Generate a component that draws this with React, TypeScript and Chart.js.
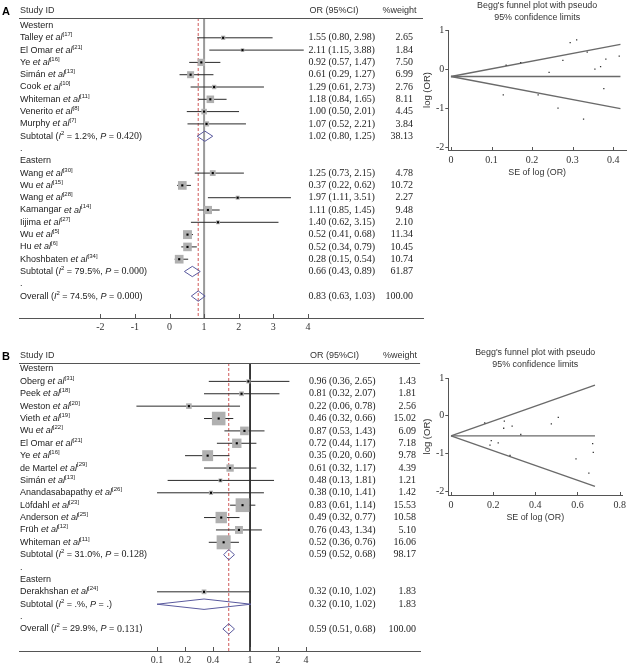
import React, { useEffect, useRef } from "react";
import { Chart, registerables } from "chart.js";
Chart.register(...registerables);

const SANS = '"Liberation Sans", Arial, sans-serif';
const SERIF = '"Liberation Serif", "Times New Roman", serif';

// ---------------- Panel A: forest plot ----------------
const studyNamesA = ["Talley", "El Omar", "Ye", "Simán", "Cook", "Whiteman", "Venerito", "Murphy", "Wang", "Wu", "Wang", "Kamangar", "Iijima", "Wu", "Hu", "Khoshbaten"];
const studyRefsA = ["17", "21", "16", "13", "10", "11", "8", "7", "30", "15", "28", "14", "27", "5", "6", "34"];
const studyRowsA = [1, 2, 3, 4, 5, 6, 7, 8, 12, 13, 14, 15, 16, 17, 18, 19];
const studyOrA = [1.55, 2.11, 0.92, 0.61, 1.29, 1.18, 1.0, 1.07, 1.25, 0.37, 1.97, 1.11, 1.4, 0.52, 0.52, 0.28];
const studyLoA = [0.8, 1.15, 0.57, 0.29, 0.61, 0.84, 0.5, 0.52, 0.73, 0.22, 1.11, 0.85, 0.62, 0.41, 0.34, 0.15];
const studyHiA = [2.98, 3.88, 1.47, 1.27, 2.73, 1.65, 2.01, 2.21, 2.15, 0.62, 3.51, 1.45, 3.15, 0.68, 0.79, 0.54];
const studyWeightA = [2.65, 1.84, 7.5, 6.99, 2.76, 8.11, 4.45, 3.84, 4.78, 10.72, 2.27, 9.48, 2.1, 11.34, 10.45, 10.74];
const groupNamesA = ["Western", "Eastern"];
const groupRowsA = [0, 11];
const blankRowsA = [10, 21];
const summaryKindA = ["Subtotal", "Subtotal", "Overall"];
const summaryRowsA = [9, 20, 22];
const summaryI2A = ["1.2%", "79.5%", "74.5%"];
const summaryPA = ["0.420", "0.000", "0.000"];
const summaryOrA = [1.02, 0.66, 0.83];
const summaryLoA = [0.8, 0.43, 0.63];
const summaryHiA = [1.25, 0.89, 1.03];
const summaryWeightA = ["38.13", "61.87", "100.00"];
const xTicksA = [-2, -1, 0, 1, 2, 3, 4];
const xTickLabelsA = ["-2", "-1", "0", "1", "2", "3", "4"];
const nullValueA = 1;
const pooledOrA = 0.83;

// ---------------- Panel A: funnel plot ----------------
const funnelSeA = [0.336, 0.31, 0.242, 0.377, 0.382, 0.172, 0.355, 0.369, 0.276, 0.264, 0.294, 0.136, 0.415, 0.129, 0.215, 0.327];
const funnelLogOrA = [0.438, 0.747, -0.083, -0.494, 0.255, 0.166, 0.0, 0.068, 0.223, -0.994, 0.678, 0.104, 0.336, -0.654, -0.654, -1.273];
const funnelLineSeA = [0, 0.418];
const funnelCenterA = [-0.186, -0.186];
const funnelUpperA = [-0.186, 0.633];
const funnelLowerA = [-0.186, -1.005];
const funnelXTicksA = [0, 0.1, 0.2, 0.3, 0.4];
const funnelXLabelsA = ["0", "0.1", "0.2", "0.3", "0.4"];

// ---------------- Panel B: forest plot ----------------
const studyNamesB = ["Oberg", "Peek", "Weston", "Vieth", "Wu", "El Omar", "Ye", "de Martel", "Simán", "Anandasabapathy", "Löfdahl", "Anderson", "Früh", "Whiteman", "Derakhshan"];
const studyRefsB = ["31", "18", "20", "19", "22", "21", "16", "29", "13", "26", "23", "25", "12", "11", "24"];
const studyRowsB = [1, 2, 3, 4, 5, 6, 7, 8, 9, 10, 11, 12, 13, 14, 18];
const studyOrB = [0.96, 0.81, 0.22, 0.46, 0.87, 0.72, 0.35, 0.61, 0.48, 0.38, 0.83, 0.49, 0.76, 0.52, 0.32];
const studyLoB = [0.36, 0.32, 0.06, 0.32, 0.53, 0.44, 0.2, 0.32, 0.13, 0.1, 0.61, 0.32, 0.43, 0.36, 0.1];
const studyHiB = [2.65, 2.07, 0.78, 0.66, 1.43, 1.17, 0.6, 1.17, 1.81, 1.41, 1.14, 0.77, 1.34, 0.76, 1.02];
const studyWeightB = [1.43, 1.81, 2.56, 15.02, 6.09, 7.18, 9.78, 4.39, 1.21, 1.42, 15.53, 10.58, 5.1, 16.06, 1.83];
const groupNamesB = ["Western", "Eastern"];
const groupRowsB = [0, 17];
const blankRowsB = [16, 20];
const summaryKindB = ["Subtotal", "Subtotal", "Overall"];
const summaryRowsB = [15, 19, 21];
const summaryI2B = ["31.0%", ".%", "29.9%"];
const summaryPB = ["0.128", ".", "0.131"];
const summaryOrB = [0.59, 0.32, 0.59];
const summaryLoB = [0.52, 0.1, 0.51];
const summaryHiB = [0.68, 1.02, 0.68];
const summaryWeightB = ["98.17", "1.83", "100.00"];
const xTicksB = [0.1, 0.2, 0.4, 1, 2, 4];
const xTickLabelsB = ["0.1", "0.2", "0.4", "1", "2", "4"];
const nullValueB = 1;
const pooledOrB = 0.59;

// ---------------- Panel B: funnel plot ----------------
const funnelSeB = [0.509, 0.476, 0.654, 0.185, 0.253, 0.25, 0.28, 0.331, 0.672, 0.675, 0.16, 0.224, 0.29, 0.191, 0.593];
const funnelLogOrB = [-0.041, -0.211, -1.514, -0.777, -0.139, -0.329, -1.05, -0.494, -0.734, -0.968, -0.186, -0.713, -0.274, -0.654, -1.139];
const funnelLineSeB = [0, 0.683];
const funnelCenterB = [-0.528, -0.528];
const funnelUpperB = [-0.528, 0.811];
const funnelLowerB = [-0.528, -1.867];
const funnelXTicksB = [0, 0.2, 0.4, 0.6, 0.8];
const funnelXLabelsB = ["0", "0.2", "0.4", "0.6", "0.8"];

const funnelYTicks = [-2, -1, 0, 1];
const funnelYLabels = ["-2", "-1", "0", "1"];
const funnelTitle = ["Begg's funnel plot with pseudo", "95% confidence limits"];

type Seg = { t: string; s?: "i" | "sup" | "serif" };

function drawRich(ctx: CanvasRenderingContext2D, segs: Seg[], x: number, y: number) {
  let cx = x;
  ctx.textBaseline = "middle";
  ctx.textAlign = "left";
  for (const g of segs) {
    let dy = 0;
    if (g.s === "i") ctx.font = `italic 9px ${SANS}`;
    else if (g.s === "sup") {
      ctx.font = `6px ${SANS}`;
      dy = -3.2;
    } else if (g.s === "serif") ctx.font = `10px ${SERIF}`;
    else ctx.font = `9px ${SANS}`;
    ctx.fillText(g.t, cx, y + dy);
    cx += ctx.measureText(g.t).width;
  }
}

function buildForest(canvas: HTMLCanvasElement, c: any) {
  const ds: any[] = [];
  const pts = c.rows.map((r: number, i: number) => ({ x: c.or[i], y: r }));
  ds.push({ data: pts, pointStyle: "rect", pointRadius: 1.5, backgroundColor: "#000", borderWidth: 0, order: 0 });
  ds.push({
    data: pts,
    pointStyle: "rect",
    pointRadius: c.w.map((w: number) => (c.boxScale * Math.sqrt(w)) / Math.SQRT2),
    backgroundColor: "#b0b0b0",
    borderWidth: 0,
    order: 1,
  });
  c.rows.forEach((r: number, i: number) => {
    ds.push({
      data: [{ x: c.lo[i], y: r }, { x: c.hi[i], y: r }],
      showLine: true, borderColor: "#2a2a2a", borderWidth: 1, pointRadius: 0, order: 2,
    });
  });
  c.sumRows.forEach((r: number, i: number) => {
    ds.push({
      data: [
        { x: c.sumLo[i], y: r },
        { x: c.sumOr[i], y: r - 0.42 },
        { x: c.sumHi[i], y: r },
        { x: c.sumOr[i], y: r + 0.42 },
        { x: c.sumLo[i], y: r },
      ],
      showLine: true, borderColor: "#5a5a9e", borderWidth: 1, pointRadius: 0, order: 2,
    });
  });
  ds.push({
    data: [{ x: c.pooled, y: c.yMin }, { x: c.pooled, y: c.yMax }],
    showLine: true, borderColor: "#d05a5a", borderWidth: 1, borderDash: [3, 2], pointRadius: 0, order: 3,
  });
  ds.push({
    data: [{ x: c.nullValue, y: c.yMin }, { x: c.nullValue, y: c.yMax }],
    showLine: true, borderColor: c.nullColor, borderWidth: c.nullWidth, pointRadius: 0, order: 4,
  });

  const textPlugin = {
    id: "forestText",
    afterDatasetsDraw(chart: any) {
      const { ctx, chartArea: ca } = chart;
      const x = chart.scales.x;
      const y = chart.scales.y;
      ctx.save();
      ctx.strokeStyle = "#555";
      ctx.lineWidth = 1;
      const hy = Math.round(ca.top) + 0.5;
      ctx.beginPath();
      ctx.moveTo(ca.left, hy);
      ctx.lineTo(ca.right, hy);
      ctx.stroke();
      x.ticks.forEach((t: any) => {
        const px = Math.round(x.getPixelForValue(t.value)) + 0.5;
        ctx.beginPath();
        ctx.moveTo(px, ca.bottom - 4);
        ctx.lineTo(px, ca.bottom);
        ctx.stroke();
      });
      const headY = ca.top - 7.5;
      ctx.textBaseline = "middle";
      ctx.textAlign = "left";
      ctx.fillStyle = "#000";
      ctx.font = `bold 11px ${SANS}`;
      ctx.fillText(c.letter, 2, headY + 1);
      ctx.fillStyle = "#333";
      ctx.font = `9px ${SANS}`;
      ctx.fillText("Study ID", ca.left + 1, headY);
      ctx.fillText("OR (95%CI)", c.orTextX + 1, headY);
      ctx.textAlign = "right";
      ctx.fillText("%weight", c.weightHeadRight, headY);

      const nx = ca.left + 1;
      ctx.fillStyle = "#222";
      c.groupRows.forEach((r: number, i: number) => drawRich(ctx, [{ t: c.groupNames[i] }], nx, y.getPixelForValue(r)));
      c.blankRows.forEach((r: number) => drawRich(ctx, [{ t: "." }], nx, y.getPixelForValue(r)));
      c.rows.forEach((r: number, i: number) => {
        const py = y.getPixelForValue(r);
        drawRich(ctx, [{ t: c.names[i] + " " }, { t: "et al", s: "i" }, { t: "[" + c.refs[i] + "]", s: "sup" }], nx, py);
        ctx.font = `10px ${SERIF}`;
        ctx.textAlign = "left";
        ctx.fillText(`${c.or[i].toFixed(2)} (${c.lo[i].toFixed(2)}, ${c.hi[i].toFixed(2)})`, c.orTextX, py);
        ctx.textAlign = "right";
        ctx.fillText(c.w[i].toFixed(2), c.weightRight, py);
      });
      c.sumRows.forEach((r: number, i: number) => {
        const py = y.getPixelForValue(r);
        drawRich(ctx, [
          { t: c.sumKind[i] + " (" },
          { t: "I", s: "i" },
          { t: "2", s: "sup" },
          { t: " = " + c.sumI2[i] + ", " },
          { t: "P", s: "i" },
          { t: " = " },
          { t: c.sumP[i], s: "serif" },
          { t: ")" },
        ], nx, py);
        ctx.font = `10px ${SERIF}`;
        ctx.textAlign = "left";
        ctx.fillText(`${c.sumOr[i].toFixed(2)} (${c.sumLo[i].toFixed(2)}, ${c.sumHi[i].toFixed(2)})`, c.orTextX, py);
        ctx.textAlign = "right";
        ctx.fillText(c.sumW[i], c.weightRight, py);
      });
      ctx.restore();
    },
  };

  return new Chart(canvas, {
    type: "scatter",
    data: { datasets: ds },
    options: {
      animation: false,
      responsive: false,
      events: [],
      layout: { padding: c.padding },
      plugins: { legend: { display: false }, tooltip: { enabled: false }, title: { display: false } },
      scales: {
        x: {
          type: c.xType,
          min: c.xMin,
          max: c.xMax,
          afterBuildTicks: (s: any) => {
            s.ticks = c.xTicks.map((v: number) => ({ value: v }));
          },
          afterFit: (s: any) => {
            s.height = 16;
          },
          grid: { display: true, drawOnChartArea: false, drawTicks: false },
          border: { display: true, color: "#555", width: 1 },
          ticks: {
            autoSkip: false,
            maxRotation: 0,
            padding: 3,
            color: "#333",
            font: { family: SERIF, size: 10 },
            callback: (_v: any, i: number) => c.xTickLabels[i],
          },
        },
        y: { type: "linear", min: c.yMin, max: c.yMax, reverse: true, display: false },
      },
    } as any,
    plugins: [textPlugin],
  });
}

const innerTicksPlugin = {
  id: "innerTicks",
  afterDatasetsDraw(chart: any) {
    const { ctx, chartArea: ca } = chart;
    const x = chart.scales.x;
    ctx.save();
    ctx.strokeStyle = "#555";
    ctx.lineWidth = 1;
    x.ticks.forEach((t: any) => {
      const px = Math.round(x.getPixelForValue(t.value)) + 0.5;
      ctx.beginPath();
      ctx.moveTo(px, ca.bottom - 3);
      ctx.lineTo(px, ca.bottom);
      ctx.stroke();
    });
    ctx.restore();
  },
};

function buildFunnel(canvas: HTMLCanvasElement, f: any) {
  const line = (ys: number[]) => ({
    data: [{ x: f.lineSe[0], y: ys[0] }, { x: f.lineSe[1], y: ys[1] }],
    showLine: true, borderColor: "#6a6a6a", borderWidth: 1.3, pointRadius: 0, order: 1,
  });
  return new Chart(canvas, {
    type: "scatter",
    data: {
      datasets: [
        {
          data: f.se.map((s: number, i: number) => ({ x: s, y: f.logOr[i] })),
          pointStyle: "rect", pointRadius: 0.9, backgroundColor: "#333", borderWidth: 0, order: 0,
        },
        line(f.center),
        line(f.upper),
        line(f.lower),
      ],
    },
    options: {
      animation: false,
      responsive: false,
      events: [],
      layout: { padding: f.padding },
      plugins: {
        legend: { display: false },
        tooltip: { enabled: false },
        title: {
          display: true,
          fullSize: false,
          text: funnelTitle,
          color: "#333",
          font: { family: SANS, size: 8.9, weight: "normal", lineHeight: 1.35 },
          padding: f.titlePadding,
        },
      },
      scales: {
        x: {
          type: "linear",
          min: f.xMin,
          max: f.xMax,
          afterBuildTicks: (s: any) => {
            s.ticks = f.xTicks.map((v: number) => ({ value: v }));
          },
          afterFit: (s: any) => {
            s.height = 30;
          },
          grid: { display: true, drawOnChartArea: false, drawTicks: false },
          border: { display: true, color: "#555", width: 1 },
          ticks: {
            autoSkip: false, maxRotation: 0, padding: 4, color: "#333",
            font: { family: SERIF, size: 10 },
            callback: (_v: any, i: number) => f.xLabels[i],
          },
          title: {
            display: true, text: "SE of log (OR)", color: "#333",
            font: { family: SANS, size: 8.9 }, padding: { top: 0, bottom: f.xTitlePad },
          },
        },
        y: {
          type: "linear",
          min: f.yMin,
          max: f.yMax,
          afterBuildTicks: (s: any) => {
            s.ticks = funnelYTicks.map((v: number) => ({ value: v }));
          },
          afterFit: (s: any) => {
            s.width = 28.3;
          },
          grid: { display: true, drawOnChartArea: false, drawTicks: true, tickLength: 3, color: "#555" },
          border: { display: true, color: "#555", width: 1 },
          ticks: {
            autoSkip: false, padding: 1, color: "#333",
            font: { family: SERIF, size: 10 },
            callback: (_v: any, i: number) => funnelYLabels[i],
          },
          title: {
            display: true, text: "log (OR)", color: "#333",
            font: { family: SANS, size: 9.5 }, padding: { top: 2, bottom: 0 },
          },
        },
      },
    } as any,
    plugins: [innerTicksPlugin],
  });
}

function ChartCanvas(props: { left: number; top: number; width: number; height: number; build: (c: HTMLCanvasElement) => Chart }) {
  const ref = useRef<HTMLCanvasElement>(null);
  useEffect(() => {
    const chart = props.build(ref.current as HTMLCanvasElement);
    return () => chart.destroy();
  }, []);
  return (
    <canvas
      ref={ref}
      width={props.width}
      height={props.height}
      style={{ position: "absolute", left: props.left, top: props.top, width: props.width, height: props.height }}
    />
  );
}

const forestA = {
  letter: "A",
  names: studyNamesA, refs: studyRefsA, rows: studyRowsA, or: studyOrA, lo: studyLoA, hi: studyHiA, w: studyWeightA,
  groupNames: groupNamesA, groupRows: groupRowsA, blankRows: blankRowsA,
  sumKind: summaryKindA, sumRows: summaryRowsA, sumI2: summaryI2A, sumP: summaryPA,
  sumOr: summaryOrA, sumLo: summaryLoA, sumHi: summaryHiA, sumW: summaryWeightA,
  xTicks: xTicksA, xTickLabels: xTickLabelsA, xType: "linear", xMin: -4.35, xMax: 7.327,
  yMin: -0.61, yMax: 23.78,
  nullValue: nullValueA, pooled: pooledOrA, nullColor: "#9a9a9a", nullWidth: 2,
  boxScale: 2.65,
  padding: { left: 19, right: 7, top: 18, bottom: 6 },
  orTextX: 308.5, weightRight: 413, weightHeadRight: 416.5,
};

const forestB = {
  letter: "B",
  names: studyNamesB, refs: studyRefsB, rows: studyRowsB, or: studyOrB, lo: studyLoB, hi: studyHiB, w: studyWeightB,
  groupNames: groupNamesB, groupRows: groupRowsB, blankRows: blankRowsB,
  sumKind: summaryKindB, sumRows: summaryRowsB, sumI2: summaryI2B, sumP: summaryPB,
  sumOr: summaryOrB, sumLo: summaryLoB, sumHi: summaryHiB, sumW: summaryWeightB,
  xTicks: xTicksB, xTickLabels: xTickLabelsB, xType: "logarithmic", xMin: 0.00328, xMax: 67.3,
  yMin: -0.485, yMax: 22.78,
  nullValue: nullValueB, pooled: pooledOrB, nullColor: "#222", nullWidth: 1,
  boxScale: 3.5,
  padding: { left: 19, right: 9.5, top: 23, bottom: 0 },
  orTextX: 309, weightRight: 416, weightHeadRight: 417,
};

const funnelA = {
  se: funnelSeA, logOr: funnelLogOrA, lineSe: funnelLineSeA, center: funnelCenterA, upper: funnelUpperA, lower: funnelLowerA,
  xTicks: funnelXTicksA, xLabels: funnelXLabelsA, xMin: -0.0066, xMax: 0.4317, yMin: -2.061, yMax: 1,
  padding: { left: 0, right: 3.3, top: 0, bottom: 10 },
  titlePadding: { top: 0, bottom: 6 }, xTitlePad: 1.8,
};

const funnelB = {
  se: funnelSeB, logOr: funnelLogOrB, lineSe: funnelLineSeB, center: funnelCenterB, upper: funnelUpperB, lower: funnelLowerB,
  xTicks: funnelXTicksB, xLabels: funnelXLabelsB, xMin: -0.0128, xMax: 0.812, yMin: -2.095, yMax: 1,
  padding: { left: 0, right: 7.3, top: 0, bottom: 15 },
  titlePadding: { top: 6.5, bottom: 7.5 }, xTitlePad: 2.2,
};

export default function App() {
  return (
    <div style={{ position: "absolute", left: 0, top: 0, width: 630, height: 667, background: "#fff", overflow: "hidden" }}>
      <ChartCanvas left={0} top={0} width={430} height={340} build={(cv) => buildForest(cv, forestA)} />
      <ChartCanvas left={0} top={340} width={430} height={327} build={(cv) => buildForest(cv, forestB)} />
      <ChartCanvas left={420} top={0} width={210} height={190} build={(cv) => buildFunnel(cv, funnelA)} />
      <ChartCanvas left={420} top={340} width={210} height={200} build={(cv) => buildFunnel(cv, funnelB)} />
    </div>
  );
}
